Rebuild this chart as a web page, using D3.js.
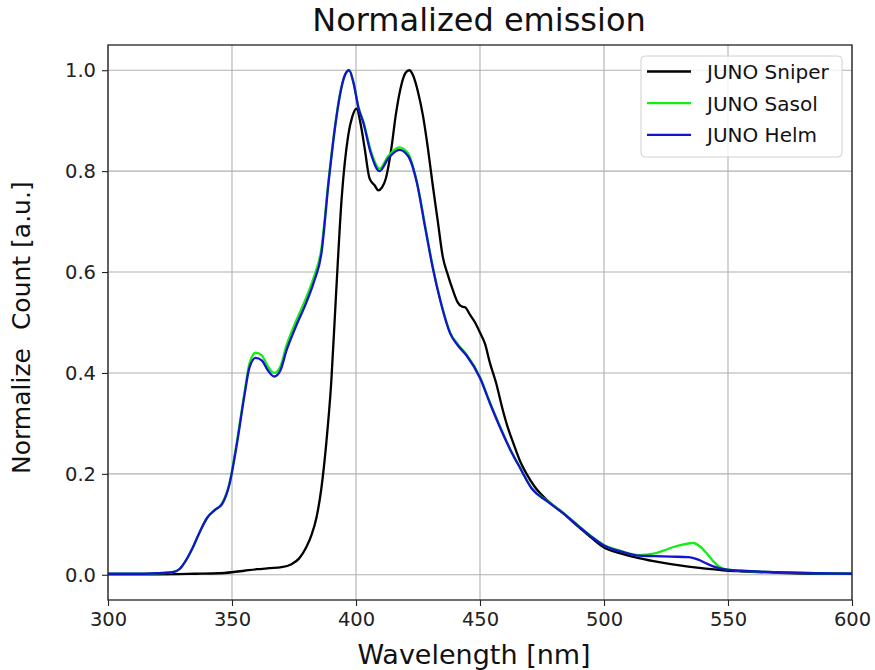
<!DOCTYPE html>
<html>
<head>
<meta charset="utf-8">
<script src="https://cdn.jsdelivr.net/npm/d3@7"></script>
<style>
  body { margin: 0; background: #ffffff; }
  svg { display: block; font-family: "DejaVu Sans", sans-serif; }
</style>
</head>
<body>
<div id="chart"></div>
<script>
// wavelength [nm] / normalized count per measurement
const sniperNm = [300, 320, 335, 345, 350, 355, 360, 365, 370, 374, 377, 380, 382, 384, 386, 388, 390, 392, 394.2, 396.9, 398.5, 400.2, 402, 403.5, 405.5, 407.5, 409, 410.5, 412, 414.4, 416, 418, 420, 421.5, 423, 425, 427, 429, 431, 433, 435, 437, 439, 441, 442.5, 444, 446, 448, 450, 452, 454, 456.5, 459, 461, 463.5, 466, 469, 472, 477, 483, 490, 495, 500, 507, 514, 520, 527, 534, 541, 548, 555, 570, 585, 600];
const sniperVal = [0.001, 0.001, 0.002, 0.003, 0.005, 0.008, 0.011, 0.013, 0.015, 0.021, 0.032, 0.055, 0.078, 0.112, 0.17, 0.26, 0.38, 0.56, 0.745, 0.872, 0.908, 0.924, 0.89, 0.845, 0.785, 0.772, 0.762, 0.768, 0.785, 0.85, 0.91, 0.965, 0.995, 1.0, 0.99, 0.957, 0.91, 0.845, 0.77, 0.70, 0.63, 0.595, 0.565, 0.54, 0.532, 0.53, 0.515, 0.5, 0.48, 0.458, 0.42, 0.38, 0.33, 0.295, 0.26, 0.227, 0.198, 0.175, 0.148, 0.124, 0.094, 0.073, 0.054, 0.042, 0.033, 0.027, 0.021, 0.016, 0.012, 0.009, 0.007, 0.004, 0.002, 0.002];

const sasolNm = [300, 310, 320, 326, 329, 331, 334, 337, 340, 343, 346, 349, 352, 355, 357, 359.5, 362, 364.5, 367, 369.5, 372, 376, 380, 383, 386, 389, 391.5, 393.5, 395.5, 397.2, 399, 401, 403, 406, 409.5, 413, 417.5, 421, 424.5, 428, 431, 434, 438, 441, 444.5, 450, 454, 458, 462, 466, 471, 477, 483, 490, 495, 500, 507, 514, 520, 524, 528, 532, 536, 538.5, 541.5, 544, 546.5, 549, 555, 570, 585, 600];
const sasolVal = [0.002, 0.002, 0.003, 0.005, 0.012, 0.025, 0.052, 0.085, 0.113, 0.128, 0.142, 0.182, 0.265, 0.36, 0.418, 0.440, 0.435, 0.413, 0.40, 0.413, 0.455, 0.505, 0.55, 0.59, 0.645, 0.785, 0.888, 0.952, 0.99, 1.0, 0.975, 0.927, 0.898, 0.84, 0.805, 0.83, 0.847, 0.835, 0.78, 0.688, 0.61, 0.545, 0.48, 0.457, 0.437, 0.392, 0.342, 0.295, 0.251, 0.214, 0.171, 0.147, 0.125, 0.096, 0.076, 0.059, 0.047, 0.039, 0.042, 0.048, 0.055, 0.060, 0.063, 0.057, 0.042, 0.027, 0.016, 0.011, 0.008, 0.005, 0.003, 0.002];

const helmNm = [300, 310, 320, 326, 329, 331, 334, 337, 340, 343, 346, 349, 352, 355, 357, 359.5, 362, 364.5, 367, 369.5, 372, 376, 380, 383, 386, 389, 391.5, 393.5, 395.5, 397.2, 399, 401, 403, 406, 409.5, 413, 417.5, 421, 424.5, 428, 431, 434, 438, 441, 444.5, 450, 454, 458, 462, 466, 471, 477, 483, 490, 495, 500, 507, 514, 520, 527, 534, 538, 541.5, 545, 548, 555, 570, 585, 600];
const helmVal = [0.002, 0.002, 0.003, 0.005, 0.012, 0.025, 0.052, 0.085, 0.113, 0.128, 0.140, 0.180, 0.26, 0.355, 0.41, 0.430, 0.425, 0.405, 0.393, 0.405, 0.445, 0.495, 0.54, 0.58, 0.635, 0.78, 0.885, 0.95, 0.99, 1.0, 0.975, 0.925, 0.895, 0.835, 0.80, 0.825, 0.842, 0.83, 0.778, 0.685, 0.607, 0.543, 0.478, 0.455, 0.435, 0.39, 0.34, 0.293, 0.25, 0.213, 0.17, 0.146, 0.124, 0.095, 0.075, 0.058, 0.046, 0.038, 0.037, 0.036, 0.035, 0.030, 0.022, 0.015, 0.011, 0.008, 0.005, 0.003, 0.002];

const seriesNames = ["JUNO Sniper", "JUNO Sasol", "JUNO Helm"];
const seriesColors = ["#000000", "#14ec14", "#1414cc"];
const xTicks = [300, 350, 400, 450, 500, 550, 600];
const yTicks = [0.0, 0.2, 0.4, 0.6, 0.8, 1.0];

const width = 875;
const height = 670;
const margin = { left: 108, right: 23, top: 45, bottom: 70 };

const svg = d3.select("#chart")
  .append("svg")
  .attr("width", width)
  .attr("height", height);

const xScale = d3.scaleLinear()
  .domain([300, 600])
  .range([margin.left, width - margin.right]);

const yScale = d3.scaleLinear()
  .domain([-0.05, 1.05])
  .range([height - margin.bottom, margin.top]);

svg.append("clipPath")
  .attr("id", "plot-clip")
  .append("rect")
  .attr("x", margin.left)
  .attr("y", margin.top)
  .attr("width", width - margin.left - margin.right)
  .attr("height", height - margin.top - margin.bottom);

// grid
svg.append("g")
  .selectAll("line")
  .data(xTicks)
  .join("line")
  .attr("x1", d => xScale(d)).attr("x2", d => xScale(d))
  .attr("y1", margin.top).attr("y2", height - margin.bottom)
  .attr("stroke", "#b0b0b0").attr("stroke-width", 1.1);

svg.append("g")
  .selectAll("line")
  .data(yTicks)
  .join("line")
  .attr("x1", margin.left).attr("x2", width - margin.right)
  .attr("y1", d => yScale(d)).attr("y2", d => yScale(d))
  .attr("stroke", "#b0b0b0").attr("stroke-width", 1.1);

// curves
const series = [
  sniperNm.map((n, i) => ({ nm: n, v: sniperVal[i] })),
  sasolNm.map((n, i) => ({ nm: n, v: sasolVal[i] })),
  helmNm.map((n, i) => ({ nm: n, v: helmVal[i] }))
];

const line = d3.line()
  .x(d => xScale(d.nm))
  .y(d => yScale(d.v))
  .curve(d3.curveMonotoneX);

series.forEach((s, i) => {
  svg.append("path")
    .datum(s)
    .attr("clip-path", "url(#plot-clip)")
    .attr("fill", "none")
    .attr("stroke", seriesColors[i])
    .attr("stroke-width", 2.3)
    .attr("stroke-linejoin", "round")
    .attr("d", line);
});

// axes
const xAxis = d3.axisBottom(xScale).tickValues(xTicks).tickSize(6).tickPadding(6).tickFormat(d3.format("d"));
const yAxis = d3.axisLeft(yScale).tickValues(yTicks).tickSize(6).tickPadding(6).tickFormat(d3.format(".1f"));

const gx = svg.append("g")
  .attr("transform", `translate(0, ${height - margin.bottom})`)
  .call(xAxis);
const gy = svg.append("g")
  .attr("transform", `translate(${margin.left}, 0)`)
  .call(yAxis);

[gx, gy].forEach(g => {
  g.select(".domain").remove();
  g.selectAll(".tick line").attr("stroke", "#222").attr("stroke-width", 1.1);
  g.selectAll(".tick text")
    .attr("fill", "#222")
    .style("font-family", "DejaVu Sans")
    .style("font-size", "19.5px");
});

// frame
svg.append("rect")
  .attr("x", margin.left)
  .attr("y", margin.top)
  .attr("width", width - margin.left - margin.right)
  .attr("height", height - margin.top - margin.bottom)
  .attr("fill", "none")
  .attr("stroke", "#222")
  .attr("stroke-width", 1.3);

// title and labels
svg.append("text")
  .attr("x", 479)
  .attr("y", 31)
  .attr("text-anchor", "middle")
  .style("font-size", "32px")
  .attr("fill", "#111")
  .text("Normalized emission");

svg.append("text")
  .attr("x", 474)
  .attr("y", 664)
  .attr("text-anchor", "middle")
  .style("font-size", "27px")
  .attr("fill", "#111")
  .text("Wavelength [nm]");

const yLabel = svg.append("text")
  .attr("transform", "translate(30, 474) rotate(-90)")
  .attr("text-anchor", "start")
  .style("font-size", "25px")
  .attr("fill", "#111");
yLabel.append("tspan").text("Normalize");
yLabel.append("tspan").attr("dx", 18).text("Count [a.u.]");

// legend
const legend = svg.append("g").attr("transform", "translate(641, 56)");
legend.append("rect")
  .attr("width", 201)
  .attr("height", 101)
  .attr("rx", 4)
  .attr("fill", "#ffffff")
  .attr("fill-opacity", 0.8)
  .attr("stroke", "#d0d0d0")
  .attr("stroke-width", 1);

seriesNames.forEach((name, i) => {
  const yy = 15.5 + i * 31.7;
  legend.append("line")
    .attr("x1", 6).attr("x2", 50)
    .attr("y1", yy).attr("y2", yy)
    .attr("stroke", seriesColors[i])
    .attr("stroke-width", 2.3);
  legend.append("text")
    .attr("x", 66)
    .attr("y", yy + 7.5)
    .style("font-size", "20px")
    .attr("fill", "#111")
    .text(name);
});
</script>
</body>
</html>
